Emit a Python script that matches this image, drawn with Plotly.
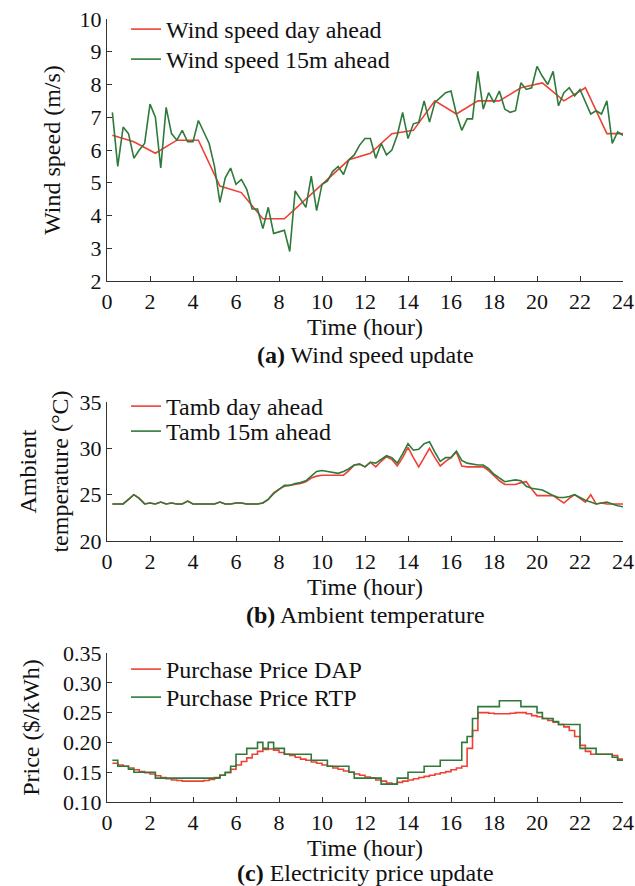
import plotly.graph_objects as go

# ---------------- data ----------------
t15 = [0.25 * k for k in range(1, 97)]          # 15-min time stamps (hour)

wind_da_t = [0.25, 1.25, 2.25, 3.25, 4.25, 5.25, 6.25, 7.25, 8.25, 9.25, 10.25, 11.25,
             12.25, 13.25, 14.25, 15.25, 16.25, 17.25, 18.25, 19.25, 20.25, 21.25, 22.25,
             23.25, 24.0]
wind_da = [6.45, 6.25, 5.9, 6.3, 6.3, 4.9, 4.7, 3.9, 3.9, 4.5, 5.1, 5.7,
           5.9, 6.5, 6.6, 7.5, 7.1, 7.5, 7.5, 7.9, 8.05, 7.5, 7.9,
           6.5, 6.5]

wind_15 = [7.15, 5.5, 6.7, 6.5, 5.75, 6.0, 6.2, 7.4, 7.0, 5.45, 7.3, 6.5,
           6.3, 6.6, 6.25, 6.25, 6.9, 6.55, 6.2, 5.5, 4.4, 5.15, 5.45, 4.95,
           5.1, 4.8, 4.2, 4.2, 3.6, 4.25, 3.45, 3.5, 3.55, 2.9, 4.75, 4.5,
           4.25, 5.2, 4.15, 4.95, 5.05, 5.35, 5.5, 5.25, 5.7, 5.85, 6.15, 6.35,
           6.35, 5.75, 6.2, 5.85, 6.0, 6.45, 7.15, 6.35, 6.8, 6.85, 7.5, 6.85,
           7.45, 7.6, 7.75, 7.8, 7.1, 6.6, 6.95, 6.95, 8.4, 7.25, 7.75, 7.45,
           7.8, 7.25, 7.15, 7.2, 8.05, 7.85, 7.9, 8.55, 8.25, 8.0, 8.4, 7.35,
           7.75, 7.9, 7.65, 7.85, 7.5, 7.1, 7.2, 7.1, 7.5, 6.2, 6.55, 6.45]

tamb_da = [24.0, 24.0, 24.0, 24.5, 25.0, 24.6, 24.0, 24.1, 24.0, 24.2, 24.0, 24.1,
           24.0, 24.0, 24.3, 24.0, 24.0, 24.0, 24.0, 24.0, 24.2, 24.0, 24.0, 24.1,
           24.1, 24.0, 24.0, 24.0, 24.1, 24.5, 25.2, 25.6, 25.9, 26.0, 26.1, 26.2,
           26.4, 26.8, 27.0, 27.1, 27.1, 27.1, 27.1, 27.1, 27.6, 28.2, 28.3, 28.0,
           28.5, 28.0, 28.6, 29.1, 28.8, 28.1, 29.0, 30.1, 29.0, 28.0, 29.0, 30.0,
           29.0, 28.1, 28.6, 29.0, 29.6, 28.1, 28.0, 28.0, 28.0, 28.0, 27.6, 27.0,
           26.5, 26.1, 26.1, 26.1, 26.3, 26.4, 25.6, 24.9, 24.9, 24.9, 24.9, 24.5,
           24.1, 24.6, 25.0, 24.6, 24.2, 25.0, 24.0, 24.1, 24.0, 24.0, 24.0, 24.0]

tamb_15 = [24.0, 24.0, 24.0, 24.5, 25.0, 24.6, 24.0, 24.1, 24.0, 24.2, 24.0, 24.1,
           24.0, 24.0, 24.3, 24.0, 24.0, 24.0, 24.0, 24.0, 24.2, 24.0, 24.0, 24.1,
           24.1, 24.0, 24.0, 24.0, 24.1, 24.5, 25.1, 25.6, 26.0, 26.0, 26.2, 26.3,
           26.5, 27.0, 27.5, 27.6, 27.5, 27.4, 27.3, 27.5, 27.8, 28.2, 28.3, 28.0,
           28.5, 28.4, 28.8, 29.2, 29.0, 28.4, 29.4, 30.5, 29.8, 29.9, 30.5, 30.7,
           29.6, 28.6, 29.0, 29.0, 29.7, 28.7, 28.4, 28.3, 28.2, 28.2, 27.8, 27.2,
           26.8, 26.4, 26.5, 26.6, 26.5, 25.9, 25.7, 25.6, 25.5, 25.2, 24.9, 24.7,
           24.7, 24.8, 25.0, 24.7, 24.4, 24.2, 24.0, 24.1, 24.2, 24.0, 23.8, 23.7]

price_dap = [0.165, 0.162, 0.160, 0.157, 0.154, 0.151, 0.149, 0.147, 0.144, 0.141, 0.139, 0.137,
             0.136, 0.135, 0.135, 0.135, 0.135, 0.136, 0.138, 0.141, 0.145, 0.149, 0.155, 0.162,
             0.168, 0.174, 0.180, 0.185, 0.188, 0.189, 0.187, 0.183, 0.180, 0.178, 0.175, 0.172,
             0.170, 0.167, 0.165, 0.162, 0.160, 0.157, 0.155, 0.152, 0.150, 0.147, 0.145, 0.142,
             0.140, 0.137, 0.135, 0.132, 0.130, 0.133, 0.135, 0.137, 0.139, 0.141, 0.143, 0.145,
             0.147, 0.149, 0.151, 0.154, 0.157, 0.160, 0.190, 0.220, 0.250, 0.250, 0.249, 0.248,
             0.248, 0.248, 0.249, 0.250, 0.250, 0.248, 0.245, 0.243, 0.240, 0.237, 0.234, 0.230,
             0.226, 0.220, 0.210, 0.195, 0.185, 0.180, 0.180, 0.180, 0.180, 0.178, 0.172, 0.170]

price_rtp_t = [0.25, 0.5, 1.0, 1.25, 2.25, 5.25, 5.5, 5.75, 6.0, 6.5, 7.0, 7.25, 7.5, 7.75,
               8.25, 9.5, 10.25, 11.25, 11.5, 12.75, 13.5, 14.0, 14.75, 15.5, 16.5, 16.75,
               17.0, 17.25, 18.25, 19.25, 20.0, 20.25, 20.75, 21.0, 22.0, 22.75, 23.5, 23.75,
               24.0]
price_rtp = [0.170, 0.160, 0.155, 0.150, 0.140, 0.145, 0.150, 0.160, 0.180, 0.190, 0.200, 0.190,
             0.200, 0.190, 0.180, 0.170, 0.160, 0.150, 0.140, 0.130, 0.140, 0.150, 0.160, 0.170,
             0.200, 0.210, 0.240, 0.260, 0.270, 0.260, 0.250, 0.240, 0.235, 0.230, 0.190, 0.180,
             0.175, 0.170, 0.170]

# ---------------- style ----------------
FONT = "Liberation Serif, Times New Roman, serif"
RED = "#ee4035"
GREEN = "#2f7a3a"
AX = "#333333"
TXT = "#111111"

W, H = 635, 886
ML, MR, MT, MB = 107, 12, 19, 84
PH = H - MT - MB


def py(pix):
    """pixel row -> paper y"""
    return (H - MB - pix) / PH


fig = go.Figure()

fig.add_trace(go.Scatter(x=wind_da_t, y=wind_da, mode="lines", name="Wind speed day ahead",
                         line=dict(color=RED, width=1.6), xaxis="x", yaxis="y", legend="legend"))
fig.add_trace(go.Scatter(x=t15, y=wind_15, mode="lines", name="Wind speed 15m ahead",
                         line=dict(color=GREEN, width=1.6), xaxis="x", yaxis="y", legend="legend2"))

fig.add_trace(go.Scatter(x=t15, y=tamb_da, mode="lines", name="Tamb day ahead",
                         line=dict(color=RED, width=1.6), xaxis="x2", yaxis="y2", legend="legend3"))
fig.add_trace(go.Scatter(x=t15, y=tamb_15, mode="lines", name="Tamb 15m ahead",
                         line=dict(color=GREEN, width=1.6), xaxis="x2", yaxis="y2", legend="legend4"))

fig.add_trace(go.Scatter(x=t15, y=price_dap, mode="lines", name="Purchase Price DAP",
                         line=dict(color=RED, width=1.6, shape="hv"), xaxis="x3", yaxis="y3",
                         legend="legend5"))
fig.add_trace(go.Scatter(x=price_rtp_t, y=price_rtp, mode="lines", name="Purchase Price RTP",
                         line=dict(color=GREEN, width=1.6, shape="hv"), xaxis="x3", yaxis="y3",
                         legend="legend6"))

common = dict(showline=True, linecolor=AX, linewidth=1.3, ticks="inside", ticklen=5,
              tickcolor=AX, tickwidth=1.2, showgrid=False, zeroline=False,
              tickfont=dict(family=FONT, size=22, color=TXT), automargin=False)

xcommon = dict(common, range=[0, 24], tick0=0, dtick=2,
               title=dict(text="Time (hour)", font=dict(family=FONT, size=24, color=TXT),
                          standoff=2))


def leg(top_pix):
    return dict(x=19 / 516, y=py(top_pix), xanchor="left", yanchor="top",
                bgcolor="rgba(0,0,0,0)", borderwidth=0,
                font=dict(family=FONT, size=24, color=TXT))


fig.update_layout(
    width=W, height=H, template="none",
    margin=dict(l=ML, r=MR, t=MT, b=MB, autoexpand=False),
    paper_bgcolor="white", plot_bgcolor="white",
    font=dict(family=FONT, size=22, color=TXT),
    xaxis=dict(xcommon, domain=[0, 1], anchor="y"),
    yaxis=dict(common, domain=[py(281), 1], range=[2, 10], dtick=1, anchor="x",
               title=dict(text="Wind speed (m/s)", font=dict(family=FONT, size=24, color=TXT),
                          standoff=12)),
    xaxis2=dict(xcommon, domain=[0, 1], anchor="y2"),
    yaxis2=dict(common, domain=[py(541), py(402)], range=[20, 35], dtick=5, anchor="x2",
                title=dict(text="Ambient<br>temperature (°C)",
                           font=dict(family=FONT, size=24, color=TXT), standoff=4)),
    xaxis3=dict(xcommon, domain=[0, 1], anchor="y3"),
    yaxis3=dict(common, domain=[0, py(653)], range=[0.10, 0.35], dtick=0.05, tickformat=".2f",
                anchor="x3",
                title=dict(text="Price ($/kWh)", font=dict(family=FONT, size=24, color=TXT),
                           standoff=16)),
    legend=leg(7), legend2=leg(37),
    legend3=leg(384), legend4=leg(409),
    legend5=leg(647), legend6=leg(675),
    showlegend=True,
)

captions = [("<b>(a)</b> Wind speed update", 355),
            ("<b>(b)</b> Ambient temperature", 615),
            ("<b>(c)</b> Electricity price update", 873)]
for txt, ypix in captions:
    fig.add_annotation(text=txt, xref="paper", yref="paper", x=0.5, y=py(ypix),
                       xanchor="center", yanchor="middle", showarrow=False,
                       font=dict(family=FONT, size=24, color=TXT))

fig.write_html("out.html")
